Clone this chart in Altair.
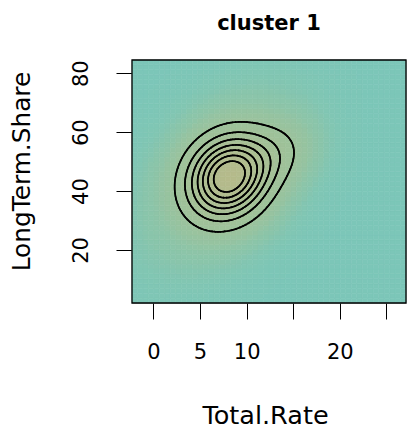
import numpy as np
import pandas as pd
import altair as alt

# Plot window (data units)
x_range = [-2.3, 27.1]
y_range = [2.0, 84.5]

# Bivariate normal components describing the density of cluster 1:
# core, broad halo, upper-right shoulder
comp_cx = [8.0, 7.5, 12.5]
comp_cy = [44.7, 44.0, 52.0]
comp_sx = [2.65, 5.0, 2.5]
comp_sy = [8.6, 17.0, 7.0]
comp_rho = [0.15, 0.4, 0.25]
comp_w = [1.0, 0.06, 0.15]

# Contour levels, as a fraction of the peak density
contour_levels = [0.12, 0.24, 0.36, 0.48, 0.60, 0.72, 0.84]

# Density image colours (fraction of peak -> colour)
color_stops = [0.0, 0.015, 0.05, 0.12, 0.5, 1.0]
color_values = ["#7cc6b8", "#89c5ab", "#95c3a1", "#9dc29b", "#aabe92", "#b5ba8b"]

x_ticks = [0, 5, 10, 15, 20, 25]
y_ticks = [20, 40, 60, 80]


def density(X, Y):
    z = np.zeros_like(X, dtype=float)
    for cx, cy, sx, sy, r, w in zip(comp_cx, comp_cy, comp_sx, comp_sy, comp_rho, comp_w):
        dx = (X - cx) / sx
        dy = (Y - cy) / sy
        q = (dx * dx - 2 * r * dx * dy + dy * dy) / (1 - r * r)
        z += w * np.exp(-0.5 * q)
    return z


# fine grid for the contour lines
gx = np.linspace(x_range[0], x_range[1], 181)
gy = np.linspace(y_range[0], y_range[1], 181)
GX, GY = np.meshgrid(gx, gy)
Z = density(GX, GY)
zmax = Z.max()
Z = Z / zmax

# coarse grid of image cells
n_cells = 50
ex = np.linspace(x_range[0], x_range[1], n_cells + 1)
ey = np.linspace(y_range[0], y_range[1], n_cells + 1)
cxs = (ex[:-1] + ex[1:]) / 2
cys = (ey[:-1] + ey[1:]) / 2
CX, CY = np.meshgrid(cxs, cys)
ZC = density(CX, CY) / zmax

rows = []
for j in range(n_cells):
    for i in range(n_cells):
        rows.append(dict(kind="cell", x=ex[i], x2=ex[i + 1], y=ey[j], y2=ey[j + 1], z=float(ZC[j, i])))


def contour_segments(level):
    """Marching squares over the fine grid; returns line segments."""
    segs = []
    v00 = Z[:-1, :-1]
    v10 = Z[:-1, 1:]
    v11 = Z[1:, 1:]
    v01 = Z[1:, :-1]
    lo = np.minimum(np.minimum(v00, v10), np.minimum(v11, v01))
    hi = np.maximum(np.maximum(v00, v10), np.maximum(v11, v01))
    js, is_ = np.nonzero((lo < level) & (hi >= level))
    for j, i in zip(js, is_):
        v = [Z[j, i], Z[j, i + 1], Z[j + 1, i + 1], Z[j + 1, i]]
        c = [(gx[i], gy[j]), (gx[i + 1], gy[j]), (gx[i + 1], gy[j + 1]), (gx[i], gy[j + 1])]
        above = [val >= level for val in v]
        pts = []
        for k in range(4):
            a, b = k, (k + 1) % 4
            if above[a] != above[b]:
                t = (level - v[a]) / (v[b] - v[a])
                pts.append((c[a][0] + t * (c[b][0] - c[a][0]), c[a][1] + t * (c[b][1] - c[a][1])))
        if len(pts) == 2:
            segs.append((pts[0], pts[1]))
        elif len(pts) == 4:
            if (sum(v) / 4 >= level) == above[0]:
                segs += [(pts[0], pts[1]), (pts[2], pts[3])]
            else:
                segs += [(pts[0], pts[3]), (pts[1], pts[2])]
    return segs


for lev in contour_levels:
    for (p, q) in contour_segments(lev):
        rows.append(dict(kind="seg", x=p[0], x2=q[0], y=p[1], y2=q[1], z=lev))

# box around the plotting window
rows.append(dict(kind="frame", x=x_range[0], x2=x_range[1], y=y_range[0], y2=y_range[1], z=0.0))

df = pd.DataFrame(rows)

FONT = "DejaVu Sans"

x_enc = alt.X(
    "x:Q",
    scale=alt.Scale(domain=x_range, nice=False, zero=False),
    axis=alt.Axis(
        values=x_ticks,
        labelExpr="(datum.value == 15 || datum.value == 25) ? '' : datum.label",
        grid=False, domain=False, tickSize=16, tickColor="black", tickWidth=1,
        labelFont=FONT, labelFontSize=21, labelColor="black", labelPadding=22,
        labelBaseline="top", labelFlush=False, labelOverlap=False,
        title="Total.Rate", titleFont=FONT, titleFontSize=25.5, titleFontWeight="normal",
        titleColor="black", titleX=133, titleY=120, titleAlign="center",
        titleBaseline="alphabetic",
    ),
)
y_enc = alt.Y(
    "y:Q",
    scale=alt.Scale(domain=y_range, nice=False, zero=False),
    axis=alt.Axis(
        values=y_ticks,
        grid=False, domain=False, tickSize=16, tickColor="black", tickWidth=1,
        labelFont=FONT, labelFontSize=21, labelColor="black", labelPadding=29,
        labelAngle=270, labelAlign="center", labelBaseline="alphabetic",
        labelFlush=False, labelOverlap=False,
        title="LongTerm.Share", titleFont=FONT, titleFontSize=24.8, titleFontWeight="normal",
        titleColor="black", titleAngle=270, titleX=-103, titleY=111, titleAlign="center",
        titleBaseline="alphabetic",
    ),
)

color_scale = alt.Scale(domain=color_stops, range=color_values, interpolate="rgb")

base = alt.Chart(df)

image = base.transform_filter(alt.datum.kind == "cell").mark_rect(strokeWidth=0.6).encode(
    x=x_enc, x2="x2:Q", y=y_enc, y2="y2:Q",
    fill=alt.Fill("z:Q", scale=color_scale, legend=None),
    stroke=alt.Stroke("z:Q", scale=color_scale, legend=None),
)

contours = base.transform_filter(alt.datum.kind == "seg").mark_rule(
    color="black", strokeWidth=1.7, strokeCap="round"
).encode(x=x_enc, x2="x2:Q", y=y_enc, y2="y2:Q")

frame = base.transform_filter(alt.datum.kind == "frame").mark_rect(
    fillOpacity=0, stroke="black", strokeWidth=1.3
).encode(x=x_enc, x2="x2:Q", y=y_enc, y2="y2:Q")

chart = (
    alt.layer(image, contours, frame)
    .properties(
        width=274, height=243,
        title=alt.TitleParams(
            "cluster 1", font=FONT, fontSize=21, fontWeight="bold", color="black",
            anchor="middle", baseline="alphabetic", offset=8,
        ),
        autosize=alt.AutoSizeParams(type="none"),
        padding={"left": 132, "top": 60, "right": 1, "bottom": 131},
    )
    .configure_view(stroke=None)
    .configure(background="white")
)

chart.save("out.html", embed_options={"renderer": "svg", "actions": False})
